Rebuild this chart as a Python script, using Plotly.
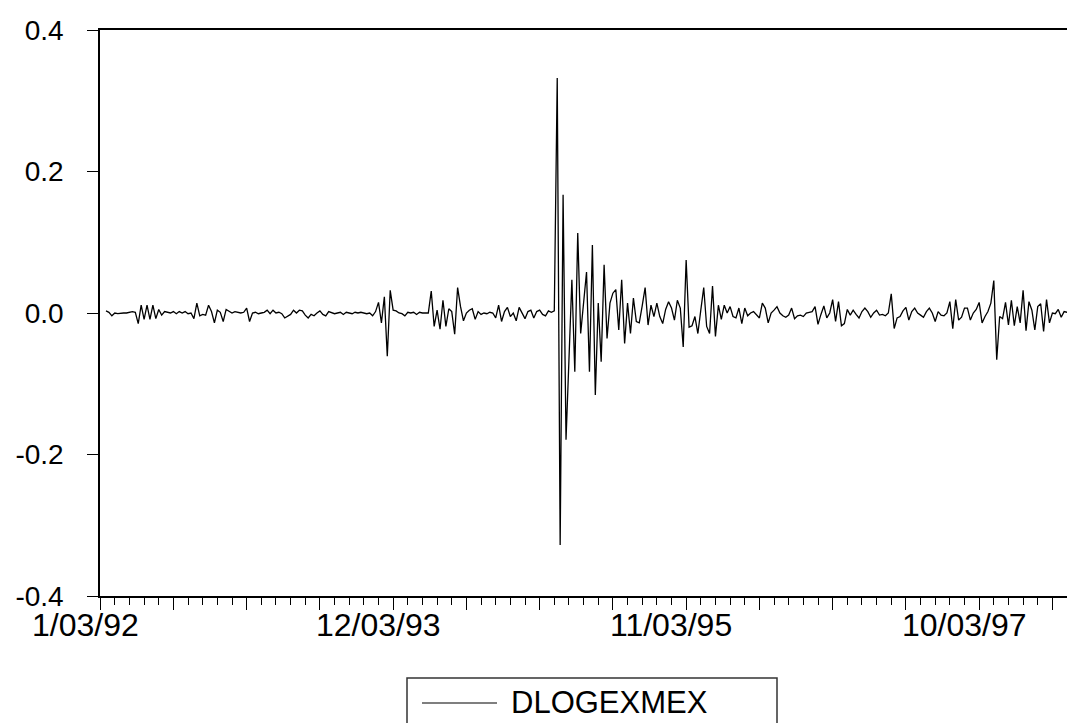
import pandas as pd
import plotly.graph_objects as go

# ---------------- data ----------------
start_date = "1992-01-03"          # first weekly observation
dlogexmex = [
    0.003, 0.001, -0.004, 0.000, -0.001, 0.000, 0.000, 0.000, 0.001, 0.002,
    0.001, -0.015, 0.011, -0.009, 0.011, -0.009, 0.011, -0.008, 0.005, -0.003,
    0.002, 0.001, 0.000, 0.002, -0.001, 0.002, 0.000, 0.002, -0.001, 0.000,
    -0.008, 0.014, -0.004, -0.002, -0.003, 0.011, 0.002, -0.014, 0.004, 0.001,
    -0.012, 0.005, 0.002, 0.000, 0.002, 0.001, 0.000, 0.001, 0.007, -0.012,
    0.000, 0.001, -0.001, 0.000, 0.001, 0.004, -0.001, 0.004, 0.000, 0.001,
    -0.001, -0.007, -0.005, -0.002, 0.004, 0.000, 0.004, 0.003, -0.003, -0.007,
    -0.002, -0.004, 0.000, 0.003, -0.002, -0.004, 0.002, 0.001, -0.001, 0.000,
    0.001, -0.002, 0.001, 0.000, -0.001, 0.001, 0.000, 0.001, 0.000, -0.001,
    0.000, -0.004, 0.002, 0.015, -0.014, 0.023, -0.061, 0.032, 0.004, 0.003,
    0.000, -0.001, -0.004, 0.001, 0.000, 0.001, -0.002, 0.001, 0.000, 0.000,
    0.000, 0.031, -0.019, 0.004, -0.023, 0.018, -0.019, 0.006, 0.002, -0.030,
    0.036, 0.009, -0.011, 0.000, 0.004, 0.006, -0.009, 0.002, -0.002, 0.000,
    -0.001, 0.001, 0.000, -0.007, 0.011, -0.012, 0.002, 0.008, -0.005, 0.000,
    -0.011, 0.008, 0.000, -0.008, 0.002, 0.004, -0.007, 0.002, 0.004, -0.002,
    -0.004, 0.003, 0.001, 0.003, 0.332, -0.328, 0.167, -0.179, -0.066, 0.047,
    -0.083, 0.113, -0.029, 0.015, 0.058, -0.083, 0.096, -0.116, 0.014, -0.069,
    0.068, -0.036, 0.014, 0.028, 0.033, -0.024, 0.047, -0.043, 0.014, -0.029,
    0.021, -0.012, -0.014, 0.010, 0.036, -0.017, 0.011, -0.005, 0.014, -0.005,
    -0.015, 0.005, 0.016, 0.007, -0.010, 0.018, 0.007, -0.048, 0.075, -0.020,
    -0.018, -0.005, -0.029, 0.004, 0.036, -0.019, -0.029, 0.038, -0.033, 0.011,
    -0.009, 0.011, 0.000, 0.009, -0.005, -0.007, 0.007, -0.015, 0.007, -0.004,
    0.000, 0.002, -0.003, -0.007, 0.014, 0.007, -0.014, 0.000, 0.004, 0.009,
    0.000, -0.004, -0.006, -0.003, 0.007, -0.008, -0.004, -0.003, -0.005, 0.000,
    0.001, 0.002, 0.009, -0.016, -0.002, 0.010, -0.007, 0.000, 0.019, -0.012,
    0.016, -0.018, -0.015, 0.005, -0.003, 0.004, -0.002, -0.007, 0.002, 0.007,
    0.002, -0.006, 0.000, 0.004, -0.003, -0.002, -0.004, 0.000, 0.027, -0.022,
    -0.007, -0.005, 0.003, 0.008, -0.010, 0.002, 0.007, 0.000, -0.003, -0.006,
    0.002, 0.007, 0.000, -0.012, 0.002, -0.003, -0.004, 0.000, 0.016, -0.022,
    0.019, -0.010, -0.006, 0.007, 0.007, -0.010, 0.000, 0.005, 0.015, -0.014,
    -0.005, 0.002, 0.014, 0.046, -0.066, -0.005, -0.008, 0.015, -0.017, 0.018,
    -0.018, 0.009, -0.014, 0.032, -0.025, 0.016, 0.004, -0.024, 0.009, 0.013,
    -0.026, 0.019, -0.014, 0.000, -0.001, 0.005, -0.006, 0.002, 0.001, 0.000,
    -0.002,
]
series_name = "DLOGEXMEX"

date_labels = ["1/03/92", "12/03/93", "11/03/95", "10/03/97"]
date_label_obs = [0, 100, 200, 300]      # observation each date label refers to

y_tickvals = [-0.4, -0.2, 0.0, 0.2, 0.4]
y_ticktext = ["-0.4", "-0.2", "0.0", "0.2", "0.4"]

# ---------------- layout constants ----------------
# the page body adds an 8px offset, so the figure is 8px smaller than the window
OFF = 8
W, H = 1075 - OFF, 723 - OFF
ML, MR, MT, MB = 100 - OFF, 0, 30 - OFF, 723 - 596
PW, PH = W - ML - MR, H - MT - MB
FONT = "Liberation Sans, Arial, Helvetica, sans-serif"

dates = pd.date_range(start_date, periods=len(dlogexmex), freq="7D")
week = pd.Timedelta(days=7)
px_per_obs = 2.93
r0_obs = -2.05
r1_obs = r0_obs + PW / px_per_obs
x_start = dates[0] + r0_obs * week
x_end = dates[0] + r1_obs * week
label_shift_obs = -7


def obs_to_paper(o):
    return (o - r0_obs) / (r1_obs - r0_obs)


def py(pix):  # window pixel row -> paper y
    return (H - MB - (pix - OFF)) / PH


def px(pix):  # window pixel column -> paper x
    return ((pix - OFF) - ML) / PW


fig = go.Figure()
fig.add_trace(go.Scatter(
    x=dates, y=dlogexmex, mode="lines", name=series_name,
    line=dict(color="black", width=1.3), showlegend=False,
))

annotations = []
for txt, o in zip(date_labels, date_label_obs):
    annotations.append(dict(
        x=obs_to_paper(o + label_shift_obs), xref="paper", xanchor="center",
        y=py(625), yref="paper", yanchor="middle",
        text=txt, showarrow=False,
        font=dict(family=FONT, size=32, color="black"),
    ))

# legend drawn as a framed box with a line sample and the series name
annotations.append(dict(
    x=px(509), xref="paper", xanchor="left",
    y=py(702), yref="paper", yanchor="middle",
    text=series_name, showarrow=False,
    font=dict(family=FONT, size=31, color="black"),
))
shapes = [
    dict(type="rect", xref="paper", yref="paper",
         x0=px(407), x1=px(777), y0=py(678), y1=py(760),
         line=dict(color="#333333", width=1.5), fillcolor="rgba(0,0,0,0)"),
    dict(type="line", xref="paper", yref="paper",
         x0=px(422), x1=px(497), y0=py(703), y1=py(703),
         line=dict(color="black", width=1.2)),
]

week_ms = 7 * 24 * 3600 * 1000
fig.update_layout(
    width=W, height=H,
    margin=dict(l=ML, r=MR, t=MT, b=MB, pad=0),
    paper_bgcolor="white", plot_bgcolor="white",
    font=dict(family=FONT, color="black"),
    showlegend=False,
    annotations=annotations,
    shapes=shapes,
    xaxis=dict(
        type="date",
        range=[x_start, x_end],
        showgrid=False, zeroline=False,
        showline=True, linecolor="black", linewidth=1.5, mirror=True,
        ticks="outside", ticklen=12, tickwidth=1.2, tickcolor="black",
        tick0=dates[0] - 2 * week, dtick=25 * week_ms,
        showticklabels=False,
        minor=dict(ticks="outside", ticklen=7, tickwidth=1.2, tickcolor="black",
                   dtick=5 * week_ms, tick0=dates[0] - 2 * week, showgrid=False),
    ),
    yaxis=dict(
        range=[-0.4, 0.4],
        tickvals=y_tickvals, ticktext=y_ticktext,
        showgrid=False, zeroline=False,
        showline=True, linecolor="black", linewidth=1.5, mirror=False,
        ticks="outside", ticklen=11, tickwidth=1.2, tickcolor="black",
        tickfont=dict(family=FONT, size=28, color="black"),
        ticklabelstandoff=18,
    ),
)

fig.write_html("out.html")
